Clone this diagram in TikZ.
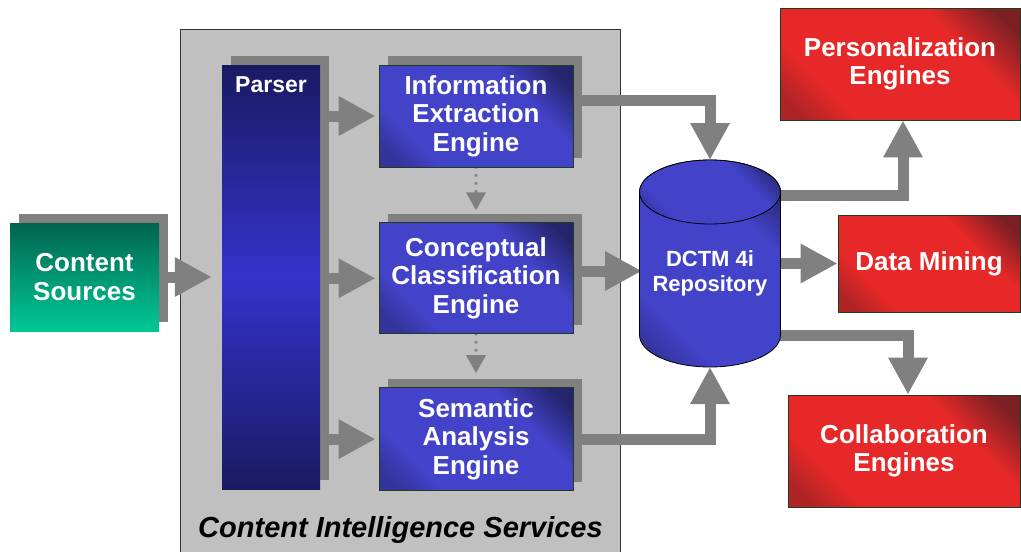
\documentclass[tikz,border=0pt]{standalone}
\usepackage{fontspec}
\setmainfont{Liberation Sans}
\usetikzlibrary{arrows.meta,positioning,shadows,backgrounds}

\definecolor{panelgray}{HTML}{C0C0C0}
\definecolor{arrowgray}{HTML}{808080}
\definecolor{engblue}{HTML}{4343CA}
\definecolor{engdark}{HTML}{25256E}
\definecolor{parnavy}{HTML}{1A1A62}
\definecolor{parblue}{HTML}{3333CC}
\definecolor{srcdark}{HTML}{00644E}
\definecolor{srclight}{HTML}{00C896}
\definecolor{outred}{HTML}{E62828}
\definecolor{outdark}{HTML}{7A2024}
\definecolor{edgegreen}{HTML}{1E3C1E}

\pgfdeclareverticalshading{engshade}{100bp}{color(0bp)=(engdark!60!engblue); color(20bp)=(engdark!50!engblue); color(30bp)=(engblue); color(66bp)=(engblue); color(80bp)=(engdark); color(100bp)=(engdark)}
\pgfdeclareverticalshading{outshade}{100bp}{color(0bp)=(outdark!60!outred); color(20bp)=(outdark!50!outred); color(30bp)=(outred); color(66bp)=(outred); color(80bp)=(outdark); color(100bp)=(outdark)}

\begin{document}
\begin{tikzpicture}[x=1pt,y=-1pt,
    boxshadow/.style={general shadow={fill=arrowgray,shadow xshift=9pt,shadow yshift=9pt}},
    engine/.style={draw=edgegreen,line width=0.8pt,shading=engshade,shading angle=-45,boxshadow,
      text=white,align=center,inner sep=0pt,minimum width=194pt,font=\bfseries\fontsize{26}{28.5}\selectfont},
    outbox/.style={draw=edgegreen,line width=0.8pt,shading=outshade,shading angle=-45,
      text=white,align=center,inner sep=0pt,font=\bfseries\fontsize{26}{28.5}\selectfont},
    srcbox/.style={top color=srcdark,bottom color=srclight,boxshadow,
      text=white,align=center,inner sep=0pt,font=\bfseries\fontsize{26}{28.5}\selectfont},
    parserbar/.style={top color=parnavy,bottom color=parnavy,middle color=parblue,boxshadow,inner sep=0pt},
    panel/.style={fill=panelgray,draw=black!80,line width=1pt,inner sep=0pt},
    flow/.style={draw=arrowgray,line width=11pt,line join=miter,-{Triangle[width=37pt,length=37pt]}},
    dotflow/.style={draw=arrowgray,line width=3.5pt,line cap=round,dash pattern=on 0pt off 8pt,
      -{Triangle[width=19pt,length=18pt]}},
    cylbody/.style={draw=black,line width=0.8pt,shading=engshade,shading angle=-45}]

  \useasboundingbox (0,0) rectangle (1021,552);

  \node[srcbox,minimum width=149pt,minimum height=108pt] (src) at (84.5,277) {Content\\Sources};
  \node[parserbar,minimum width=98pt,minimum height=424pt,
    label={[name=parsername,anchor=north,yshift=-12pt,inner sep=0pt,text=white,
      font=\bfseries\fontsize{23}{26}\selectfont]north:Parser}] (parser) at (271,277) {};

  \node[engine,minimum height=102pt] (ie) at (476,116) {Information\\Extraction\\Engine};
  \node[engine,minimum height=111pt,below=55pt of ie] (cc) {Conceptual\\Classification\\Engine};
  \node[engine,minimum height=103pt,below=53pt of cc] (sa) {Semantic\\Analysis\\Engine};

  \path[cylbody] (639.5,192) -- (639.5,335) arc[start angle=180,end angle=360,x radius=70.5pt,y radius=32pt]
    -- (780.5,192) arc[start angle=0,end angle=180,x radius=70.5pt,y radius=32pt] -- cycle;
  \path[cylbody] (710,192) ellipse[x radius=70.5pt,y radius=32pt];
  \node[text=white,align=center,inner sep=0pt,font=\bfseries\fontsize{22}{25}\selectfont] (repo) at (710,273) {DCTM 4i\\Repository};
  \coordinate (repotop) at (710,160);
  \coordinate (repoleft) at (642,271);
  \coordinate (repobot) at (710,367);
  \coordinate (repopers) at (770,195);
  \coordinate (repodm) at (770,263.5);
  \coordinate (repocollab) at (770,335);

  \node[outbox,minimum width=240pt,minimum height=112pt] (pers) at (900,64) {Personalization\\Engines};
  \node[outbox,minimum width=182pt,minimum height=97pt] (dm) at (929,263.5) {Data Mining};
  \node[outbox,minimum width=232pt,minimum height=112pt] (collab) at (904,451) {Collaboration\\Engines};

  \begin{scope}[on background layer]
    \node[panel,anchor=north west,minimum width=440pt,minimum height=535pt] (cis) at (180,29) {};
    \node[anchor=base,inner sep=0pt,font=\bfseries\itshape\fontsize{29}{34}\selectfont] (cistitle) at (400.5,537) {Content Intelligence Services};

    \draw[flow] (src.east) -- ([xshift=-10pt]parser.west);
    \draw[flow] ([xshift=9pt]parser.east |- ie.west) -- ([xshift=-3pt]ie.west);
    \draw[flow] ([xshift=9pt]parser.east |- cc.west) -- ([xshift=-3pt]cc.west);
    \draw[flow] ([xshift=9pt]parser.east |- sa.west) -- ([xshift=-3pt]sa.west);
    \draw[dotflow] (ie.south) -- ([yshift=12pt]cc.north);
    \draw[dotflow] (cc.south) -- ([yshift=14pt]sa.north);
    \draw[flow] ([yshift=16pt]ie.east) -| (repotop);
    \draw[flow] (cc.east |- repoleft) -- (repoleft);
    \draw[flow] (sa.east) -| (repobot);
    \draw[flow] (repopers) -| ([xshift=3pt]pers.south);
    \draw[flow] (repodm) -- (dm.west);
    \draw[flow] (repocollab) -| ([xshift=4pt]collab.north);
  \end{scope}
\end{tikzpicture}
\end{document}
